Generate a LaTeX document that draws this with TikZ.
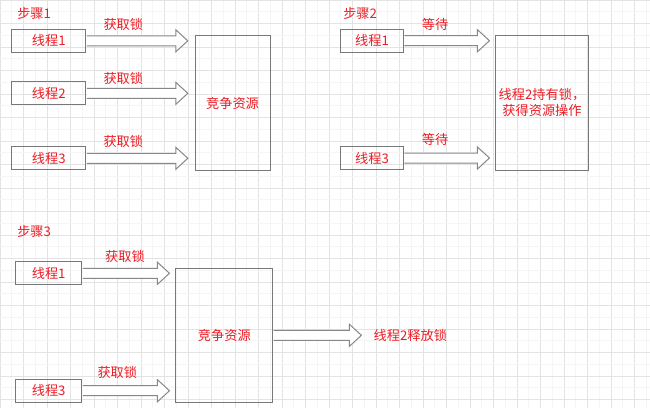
\documentclass[tikz,border=0pt]{standalone}
\usepackage{fontspec}
\setmainfont{Noto Sans CJK SC}
\usepackage{tikz}
\usetikzlibrary{positioning, calc}

\definecolor{txtred}{RGB}{236,28,36}
\definecolor{boxgray}{RGB}{120,120,120}
\definecolor{arrgray}{RGB}{135,135,135}

% block arrow: #1 start point, #2 tip
\newcommand{\fatarrow}[2]{%
  \draw [arrowline] ($(#1)+(0.6,-5)$) -- ($(#2)+(-12,-5)$) -- ($(#2)+(-12,-11)$) -- (#2)
    -- ($(#2)+(-12,11)$) -- ($(#2)+(-12,5)$) -- ($(#1)+(0.6,5)$);}

\begin{document}
\begin{tikzpicture}[x=0.75pt, y=-0.75pt,
    every node/.style={font=\fontsize{9.9}{12.5}\selectfont, text=txtred},
    thread/.style={draw=boxgray, line width=0.75pt, minimum height=17.25pt, inner sep=1pt},
    res/.style={draw=boxgray, line width=0.75pt, inner sep=1pt, align=center},
    arrowline/.style={draw=arrgray, fill=white, line width=0.75pt},
    gridmajor/.style={draw=black!11, line width=0.6pt},
    gridminor/.style={draw=black!4, line width=0.5pt}]

\useasboundingbox (0,0) rectangle (650,408);
\fill [white] (0,0) rectangle (650,408);

% grid
\foreach \i in {0,...,27} {
  \draw [gridminor] (\i*23.5+11.75,0) -- (\i*23.5+11.75,408);
  \draw [gridmajor] (\i*23.5,0) -- (\i*23.5,408);
}
\foreach \j in {0,...,17} {
  \draw [gridminor] (0,\j*23.5+11.75) -- (650,\j*23.5+11.75);
  \draw [gridmajor] (0,\j*23.5) -- (650,\j*23.5);
}

% step 1
\node [anchor=west, inner sep=0pt] (step1) at (17,13) {步骤1};
\node [thread, minimum width=55.5pt] (t1) at (48.8,40.8) {线程1};
\node [thread, minimum width=55.5pt] (t2) at (48.8,93.3) {线程2};
\node [thread, minimum width=55.5pt] (t3) at (48.8,158.3) {线程3};
\node [res, minimum width=56.25pt, minimum height=101.25pt] (res1) at (232.5,103.2) {竞争资源};
\foreach \k in {1,2,3} {
  \coordinate (tip1\k) at ($(res1.west |- t\k.east)+(-6.7,0)$);
  \fatarrow{t\k.east}{tip1\k}
}
\node (lock11) at (123.3,24) {获取锁};
\node (lock12) at (123.3,78.7) {获取锁};
\node (lock13) at (123.3,141.7) {获取锁};

% step 2
\node [anchor=west, inner sep=0pt] (step2) at (343,13) {步骤2};
\node [thread, minimum width=47pt] (u1) at (372,40.7) {线程1};
\node [thread, minimum width=47pt] (u3) at (372,158) {线程3};
\node [res, minimum width=69.5pt, minimum height=101.25pt] (res2) at (542,102.5) {线程2持有锁，\\获得资源操作};
\coordinate (tip21) at ($(res2.west |- u1.east)+(-5.7,0)$);
\coordinate (tip23) at ($(res2.west |- u3.east)+(-5.7,0)$);
\fatarrow{u1.east}{tip21}
\fatarrow{u3.east}{tip23}
\node (wait1) at (435,24) {等待};
\node (wait3) at (435,139.3) {等待};

% step 3
\node [anchor=west, inner sep=0pt] (step3) at (17,231) {步骤3};
\node [thread, minimum width=49.5pt] (v1) at (48.7,273.3) {线程1};
\node [thread, minimum width=49.5pt] (v3) at (48.7,390.7) {线程3};
\node [res, minimum width=72.5pt, minimum height=100.5pt] (res3) at (224.3,335.3) {竞争资源};
\coordinate (tip31) at ($(res3.west |- v1.east)+(-6,0)$);
\coordinate (tip33) at ($(res3.west |- v3.east)+(-6,0)$);
\coordinate (tip3r) at ($(res3.east)+(88.3,0)$);
\fatarrow{v1.east}{tip31}
\fatarrow{v3.east}{tip33}
\fatarrow{res3.east}{tip3r}
\node (lock31) at (125,256.7) {获取锁};
\node (lock33) at (117.3,372.3) {获取锁};
\node [right=9pt of tip3r, inner sep=0pt] (release) {线程2释放锁};
\end{tikzpicture}
\end{document}
